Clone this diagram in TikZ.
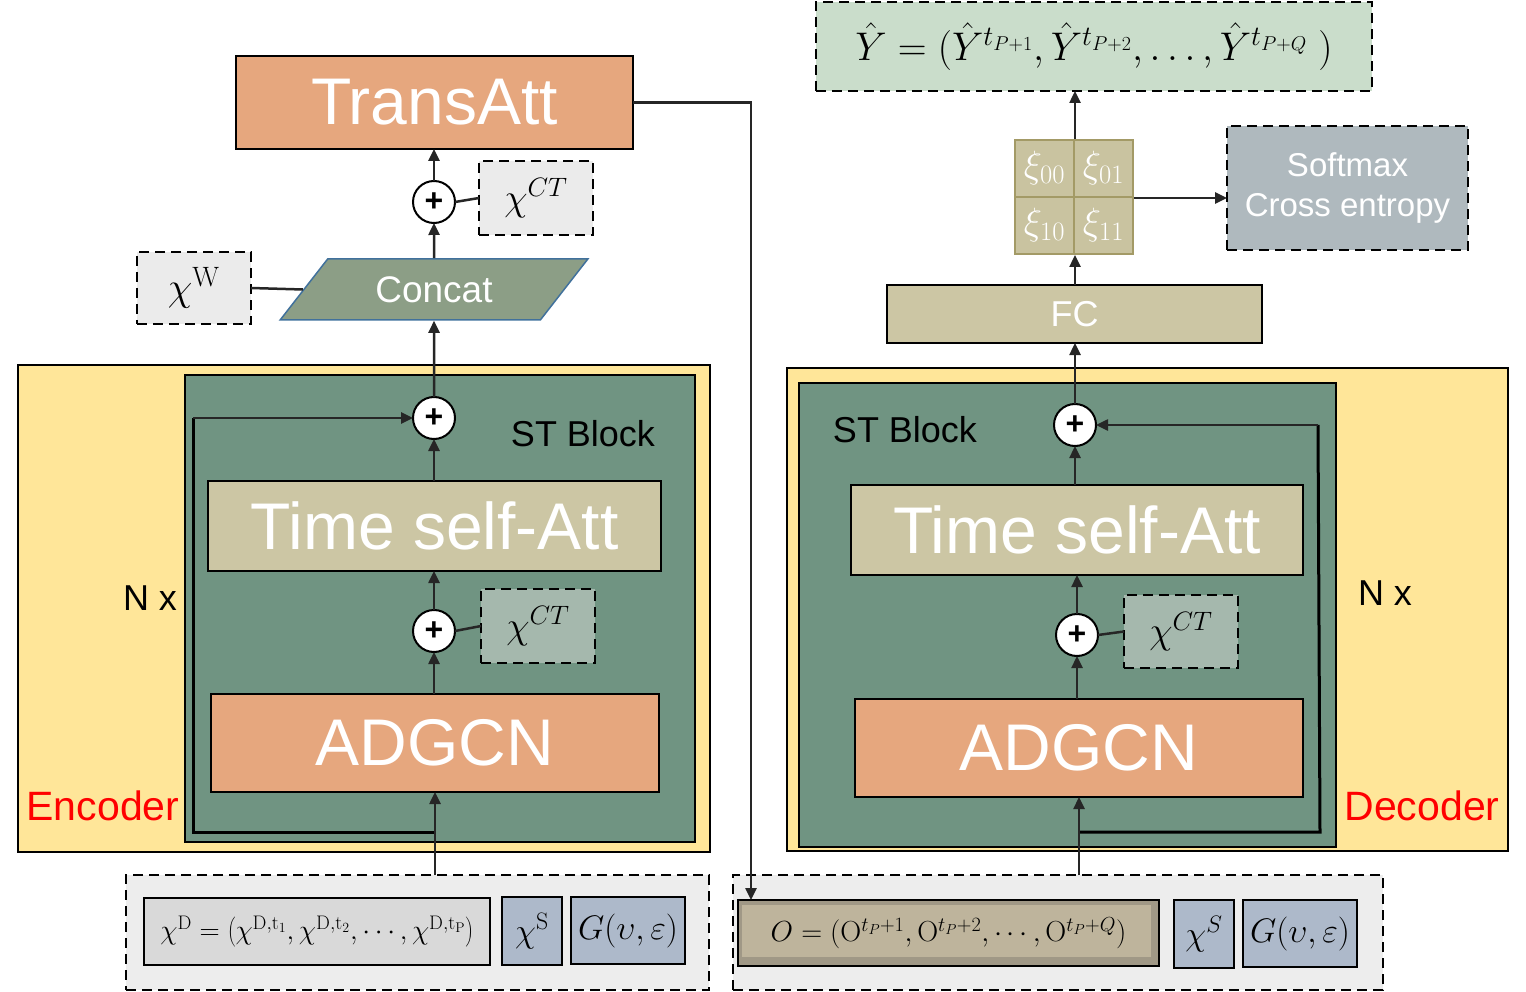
\RequirePackage{fix-cm}
\documentclass[tikz,border=0pt]{standalone}
\usepackage[no-math]{fontspec}
\setmainfont{Liberation Sans}
\usetikzlibrary{arrows.meta,shapes.geometric,calc}
\newcommand\fsz[1]{\fontsize{#1}{#1}\selectfont}
\definecolor{yel}{HTML}{FFE699}
\definecolor{stg}{HTML}{709482}
\definecolor{org}{HTML}{E6A77E}
\definecolor{tan}{HTML}{CCC6A4}
\definecolor{ctg}{HTML}{A5B8AD}
\definecolor{lgr}{HTML}{EBEBEB}
\definecolor{bgr}{HTML}{EDEDED}
\definecolor{dgr}{HTML}{D9D9D9}
\definecolor{blu}{HTML}{ADB9CA}
\definecolor{cct}{HTML}{8C9E86}
\definecolor{ccb}{HTML}{41719C}
\definecolor{xif}{HTML}{C9C3A0}
\definecolor{xib}{HTML}{A39A66}
\definecolor{sft}{HTML}{AFB9BE}
\definecolor{yhf}{HTML}{CADDCB}
\definecolor{oout}{HTML}{A09886}
\definecolor{oin}{HTML}{BEB49C}
\definecolor{arc}{HTML}{262626}
\tikzset{
  blk/.style={draw=black, line width=2pt, inner sep=0pt, outer sep=0pt},
  dbox/.style={draw=black, line width=2pt, dash pattern=on 10pt off 6pt, inner sep=0pt, outer sep=0pt},
  arr/.style={draw=arc, line width=2.5pt, -{Triangle[length=12pt,width=11pt]}},
  lnk/.style={draw=arc, line width=2.5pt},
  res/.style={draw=black, line width=3pt},
  plus/.style={circle, draw=black, line width=2pt, fill=white, minimum size=42pt, inner sep=0pt, outer sep=0pt, font=\fsz{32}\bfseries},
  big/.style={text=white, font=\fsz{66}},
  lbl/.style={font=\fsz{36}, inner sep=0pt},
  redl/.style={font=\fsz{41}, text=red, inner sep=0pt},
  xic/.style={draw=xib, line width=2pt, fill=xif, minimum width=59pt, minimum height=57pt, inner sep=0pt, text=white, font=\fsz{38}},
}
\begin{document}
\begin{tikzpicture}[x=1pt,y=-1pt]
\useasboundingbox (0,0) rectangle (1526,992);
% ---------------- Encoder ----------------
\node[draw=black, line width=1.5pt, fill=yel, minimum width=692pt, minimum height=487pt, inner sep=0pt] (enc) at (364,608.5) {};
\node[blk, fill=stg, minimum width=510pt, minimum height=467pt] (stE) at (440,608.5) {};
\node[lbl] (stEt) at (583,434) {ST Block};
\node[lbl] (nxE) at (150,598) {N x};
\node[redl] (encT) at (103,806) {Encoder};
\node[blk, fill=tan, minimum width=453pt, minimum height=90pt, big] (timeE) at (434.5,526) {Time self-Att};
\node[blk, fill=org, minimum width=448pt, minimum height=98pt, big] (adgE) at (435,743) {ADGCN};
\node[plus] (pE1) at (434,418) {+};
\node[plus] (pE2) at (434,631) {+};
\node[dbox, fill=ctg, minimum width=114pt, minimum height=74pt, font=\fsz{38}] (ctE) at (538,626) {$\chi^{CT}$};
% bottom input encoder
\node[dbox, fill=bgr, minimum width=583pt, minimum height=115pt] (inE) at (417.5,932.5) {};
\node[blk, fill=dgr, minimum width=346pt, minimum height=67pt, font=\fsz{28}] (xD) at (317,931.5) {$\chi^{\mathrm{D}}=\left(\chi^{\mathrm{D},\mathrm{t}_1},\chi^{\mathrm{D},\mathrm{t}_2},\cdots,\chi^{\mathrm{D},\mathrm{t}_\mathrm{P}}\right)$};
\node[blk, fill=blu, minimum width=60pt, minimum height=68pt, font=\fsz{34}] (xSE) at (532,931) {$\chi^{\mathrm{S}}$};
\node[blk, fill=blu, minimum width=114pt, minimum height=67pt, font=\fsz{34}] (gE) at (628,930.5) {$G(\upsilon,\varepsilon)$};
% top encoder
\node[trapezium, trapezium left angle=45, trapezium right angle=135, trapezium stretches=true, draw=ccb, line width=1.5pt, fill=cct, minimum width=308pt, minimum height=61pt, inner sep=0pt, text=white, font=\fsz{37}] (cat) at (434,289.5) {Concat};
\node[dbox, fill=lgr, minimum width=114pt, minimum height=72pt, font=\fsz{40}] (xW) at (194,288) {$\chi^{\mathrm{W}}$};
\node[plus] (pT) at (434,202) {+};
\node[dbox, fill=lgr, minimum width=114pt, minimum height=74pt, font=\fsz{38}] (ctT) at (536,198) {$\chi^{CT}$};
\node[blk, fill=org, minimum width=397pt, minimum height=93pt, big] (tatt) at (434.5,102.5) {TransAtt};
% encoder connectors
\coordinate (rE0) at (435,832);
\coordinate (rE1) at (193,832);
\coordinate (rE2) at (193,418);
\draw[res] (rE0) -- (rE1) -- (rE2);
\draw[arr] (rE2) -- (pE1.west);
\draw[arr] (adgE.south |- inE.north) -- (adgE.south);
\draw[arr] (adgE.north -| pE2.south) -- (pE2.south);
\draw[lnk] (ctE.west) -- (pE2.east);
\draw[arr] (pE2.north) -- (timeE.south -| pE2.north);
\draw[arr] (timeE.north -| pE1.south) -- (pE1.south);
\draw[arr] (pE1.north) -- (cat.south);
\draw[lnk] (xW.east) -- (cat.west);
\draw[arr] (cat.north) -- (pT.south);
\draw[lnk] (ctT.west) -- (pT.east);
\draw[arr] (pT.north) -- (tatt.south -| pT.north);
% ---------------- Decoder ----------------
\node[draw=black, line width=1.5pt, fill=yel, minimum width=721pt, minimum height=483pt, inner sep=0pt] (dec) at (1147.5,609.5) {};
\node[blk, fill=stg, minimum width=537pt, minimum height=464pt] (stD) at (1067.5,615) {};
\node[lbl] (stDt) at (905,430) {ST Block};
\node[lbl] (nxD) at (1385,593) {N x};
\node[redl] (decT) at (1422,806) {Decoder};
\node[blk, fill=tan, minimum width=452pt, minimum height=90pt, big] (timeD) at (1077,530) {Time self-Att};
\node[blk, fill=org, minimum width=448pt, minimum height=98pt, big] (adgD) at (1079,748) {ADGCN};
\node[plus] (pD1) at (1075,425) {+};
\node[plus] (pD2) at (1077,635) {+};
\node[dbox, fill=ctg, minimum width=114pt, minimum height=73pt, font=\fsz{38}] (ctD) at (1181,631.5) {$\chi^{CT}$};
% bottom input decoder
\node[dbox, fill=bgr, minimum width=650pt, minimum height=115pt] (inD) at (1058,932.5) {};
\node[blk, fill=oout, minimum width=421pt, minimum height=66pt, font=\fsz{29},
  path picture={\fill[oin] ($(path picture bounding box.north west)+(4,5)$) rectangle ($(path picture bounding box.south east)+(-8,-9)$);}] (oB) at (948.5,933) {$O=(\mathrm{O}^{t_P+1},\mathrm{O}^{t_P+2},\cdots,\mathrm{O}^{t_P+Q})$};
\node[blk, fill=blu, minimum width=60pt, minimum height=68pt, font=\fsz{34}] (xSD) at (1204,934) {$\chi^{S}$};
\node[blk, fill=blu, minimum width=114pt, minimum height=67pt, font=\fsz{34}] (gD) at (1300,933.5) {$G(\upsilon,\varepsilon)$};
% top decoder
\node[blk, fill=tan, minimum width=375pt, minimum height=58pt, text=white, font=\fsz{36}] (fc) at (1074.5,314) {FC};
\node[xic] (x00) at (1044.5,168.5) {$\xi_{00}$};
\node[xic] (x01) at (1103.5,168.5) {$\xi_{01}$};
\node[xic] (x10) at (1044.5,225.5) {$\xi_{10}$};
\node[xic] (x11) at (1103.5,225.5) {$\xi_{11}$};
\node[dbox, fill=sft, minimum width=241pt, minimum height=124pt, text=white, font=\fsz{33}, align=center] (soft) at (1347.5,188) {Softmax\\[7pt]Cross entropy};
\node[dbox, fill=yhf, minimum width=556pt, minimum height=89pt, font=\fsz{40}] (yh) at (1094,46.5) {$\hat{Y}=\Bigl(\hat{Y}^{t_{P+1}},\hat{Y}^{t_{P+2}},\ldots,\hat{Y}^{t_{P+Q}}\;\Bigr)$};
% decoder connectors
\coordinate (rD0) at (1080,832);
\coordinate (rD1) at (1320,832);
\coordinate (rD2) at (1318,425);
\draw[res] (rD0) -- (rD1) -- (rD2);
\draw[arr] (rD2) -- (pD1.east);
\draw[arr] (adgD.south |- inD.north) -- (adgD.south);
\draw[arr] (adgD.north -| pD2.south) -- (pD2.south);
\draw[lnk] (ctD.west) -- (pD2.east);
\draw[arr] (pD2.north) -- (timeD.south -| pD2.north);
\draw[arr] (timeD.north -| pD1.south) -- (pD1.south);
\draw[arr] (pD1.north) -- (fc.south -| pD1.north);
\draw[arr] (fc.north -| x10.south east) -- (x10.south east);
\draw[arr] (x00.north east) -- (yh.south -| x00.north east);
\draw[arr] (x01.south east) -- (soft.west |- x01.south east);
% TransAtt to decoder input
\coordinate (tin) at (751,900);
\draw[arr] (tatt.east) -| (tin);
\end{tikzpicture}
\end{document}
